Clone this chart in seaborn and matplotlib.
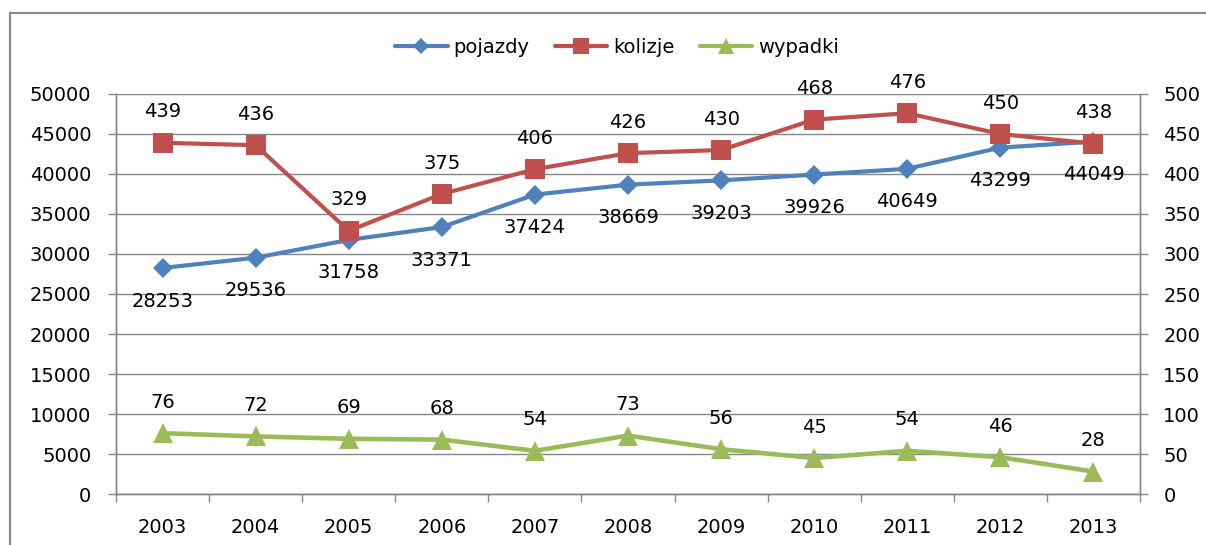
import matplotlib

matplotlib.use("Agg")
import matplotlib.pyplot as plt
import pandas as pd
import seaborn as sns
from matplotlib.lines import Line2D
from matplotlib.patches import Rectangle

years = [2003, 2004, 2005, 2006, 2007, 2008, 2009, 2010, 2011, 2012, 2013]
pojazdy = [28253, 29536, 31758, 33371, 37424, 38669, 39203, 39926, 40649, 43299, 44049]
kolizje = [439, 436, 329, 375, 406, 426, 430, 468, 476, 450, 438]
wypadki = [76, 72, 69, 68, 54, 73, 56, 45, 54, 46, 28]

BLUE = "#4F81BD"
RED = "#C0504D"
GREEN = "#9BBB59"
GRAY = "#868686"
FS = 14

W, H = 1206, 545


def main() -> None:
    sns.set_style("white")
    plt.rcParams["font.family"] = ["DejaVu Sans"]
    plt.rcParams["text.color"] = "black"

    df = pd.DataFrame({"rok": years, "pojazdy": pojazdy,
                       "kolizje": kolizje, "wypadki": wypadki})

    fig = plt.figure(figsize=(W / 100, H / 100), dpi=100)
    # outer chart frame (right and bottom edges fall outside the image)
    fig.patches.append(Rectangle((10 / W, -0.1), 1.2, 1.1 - 13 / H,
                                 transform=fig.transFigure, fill=False,
                                 edgecolor="#8A8A8A", lw=1.6))

    ax = fig.add_axes([116 / W, 51 / H, 1024 / W, 400 / H])
    ax2 = ax.twinx()

    # --- left axis: vehicles ---
    sns.lineplot(data=df, x="rok", y="pojazdy", ax=ax, color=BLUE, lw=3,
                 marker="D", markersize=10, markeredgewidth=0, legend=False)
    # --- right axis: collisions and accidents ---
    sns.lineplot(data=df, x="rok", y="kolizje", ax=ax2, color=RED, lw=3,
                 marker="s", markersize=14, markeredgewidth=0, legend=False)
    sns.lineplot(data=df, x="rok", y="wypadki", ax=ax2, color=GREEN, lw=3.3,
                 marker="^", markersize=14, markeredgewidth=0, legend=False)

    for x, v in zip(years, pojazdy):
        ax.annotate(str(v), (x, v), xytext=(0, -23.8), textcoords="offset points",
                    ha="center", va="center", fontsize=FS, color="black")
    for series in (kolizje, wypadki):
        for x, v in zip(years, series):
            ax2.annotate(str(v), (x, v), xytext=(0, 22.3), textcoords="offset points",
                         ha="center", va="center", fontsize=FS, color="black")

    ax.set_xlim(years[0] - 0.5, years[-1] + 0.5)
    ax.set_ylim(0, 50000)
    ax2.set_ylim(0, 500)
    ax.set_yticks(range(0, 50001, 5000))
    ax2.set_yticks(range(0, 501, 50))
    ax.set_xticks(years)
    ax.set_xticks([y + 0.5 for y in [years[0] - 1] + years], minor=True)

    ax.grid(axis="y", color=GRAY, lw=1)
    ax.set_axisbelow(True)
    ax2.grid(False)

    for a in (ax, ax2):
        a.set_xlabel("")
        a.set_ylabel("")
        for sp in a.spines.values():
            sp.set_color(GRAY)
            sp.set_linewidth(1)
        a.spines["top"].set_visible(False)

    ax.tick_params(axis="y", direction="out", length=5.8, width=1, color=GRAY,
                   labelcolor="black", labelsize=FS, pad=12, left=True)
    ax2.tick_params(axis="y", direction="out", length=5.8, width=1, color=GRAY,
                    labelcolor="black", labelsize=FS, pad=11, right=True)
    ax.tick_params(axis="x", which="major", length=0, labelcolor="black",
                   labelsize=FS, pad=17)
    ax.tick_params(axis="x", which="minor", direction="out", length=5.8,
                   width=1, color=GRAY, bottom=True)

    handles = [
        Line2D([], [], color=BLUE, lw=3, marker="D", markersize=8, markeredgewidth=0),
        Line2D([], [], color=RED, lw=3, marker="s", markersize=11, markeredgewidth=0),
        Line2D([], [], color=GREEN, lw=3, marker="^", markersize=11, markeredgewidth=0),
    ]
    fig.legend(handles, ["pojazdy", "kolizje", "wypadki"], loc="center",
               bbox_to_anchor=(617 / W, 1 - 47 / H), ncol=3, frameon=False,
               fontsize=FS, labelcolor="black", handlelength=2.7,
               handletextpad=0.3, columnspacing=1.3)

    fig.savefig("out.png", dpi=100)
    plt.close(fig)


if __name__ == "__main__":
    main()
